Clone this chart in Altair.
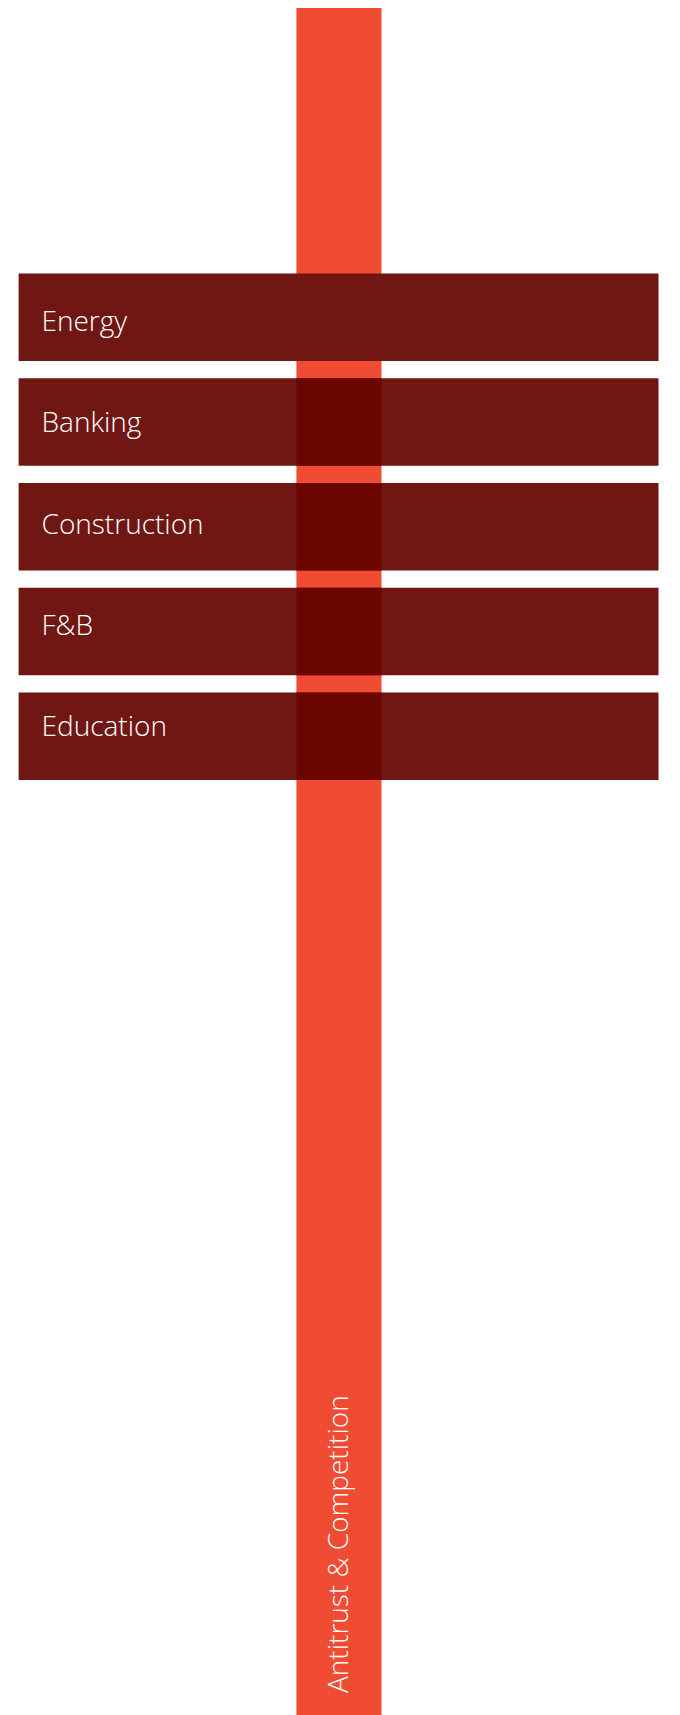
import altair as alt
import pandas as pd

# ---- data ----
industries = ["Energy", "Banking", "Construction", "F&B", "Education"]
linked = [False, True, True, True, True]
practice_area = ["Antitrust & Competition"]

# ---- layout (chart units: pixels of the plot area) ----
W, H = 664, 1707
BAR_X0, BAR_X1 = 10.6, 650.5
COL_X0, COL_X1 = 288.4, 373.5
ROW_TOP, ROW_BOTTOM = 265.5, 772.0
LABEL_X = 33.5
FONT = "Open Sans"
FONT_SIZE = 28

rows = pd.DataFrame({"industry": industries, "linked": linked, "order": range(len(industries))})
rows["x0"] = BAR_X0
rows["x1"] = BAR_X1
rows["cx0"] = COL_X0
rows["cx1"] = COL_X1
rows["lx"] = LABEL_X

col = pd.DataFrame({"area": practice_area, "x0": [COL_X0], "x1": [COL_X1],
                    "y0": [0], "y1": [H], "cx": [(COL_X0 + COL_X1) / 2 + 1], "ty": [H - 22]})

xs = alt.Scale(domain=[0, W], range=[0, W], nice=False, zero=False)
ys_q = alt.Scale(domain=[0, H], range=[0, H], nice=False, zero=False)
ys_b = alt.Scale(domain=industries, range=[ROW_TOP, ROW_BOTTOM], paddingInner=0.165, paddingOuter=0)

noaxis = None

column = alt.Chart(col).mark_rect(color="#F04B33").encode(
    x=alt.X("x0:Q", scale=xs, axis=noaxis),
    x2="x1:Q",
    y=alt.Y("y0:Q", scale=ys_q, axis=noaxis),
    y2="y1:Q",
)

col_label = alt.Chart(col).mark_text(
    angle=270, align="left", baseline="middle", color="white",
    font=FONT, fontSize=FONT_SIZE, fontWeight=300,
).encode(
    x=alt.X("cx:Q", scale=xs, axis=noaxis),
    y=alt.Y("ty:Q", scale=ys_q, axis=noaxis),
    text="area:N",
)

bars = alt.Chart(rows).mark_bar(color="#701713").encode(
    x=alt.X("x0:Q", scale=xs, axis=noaxis),
    x2="x1:Q",
    y=alt.Y("industry:N", scale=ys_b, axis=noaxis, sort=industries),
)

overlap = alt.Chart(rows).transform_filter("datum.linked").mark_bar(color="#6A0500").encode(
    x=alt.X("cx0:Q", scale=xs, axis=noaxis),
    x2="cx1:Q",
    y=alt.Y("industry:N", scale=ys_b, axis=noaxis, sort=industries),
)

labels = alt.Chart(rows).mark_text(
    align="left", baseline="middle", color="white",
    font=FONT, fontSize=FONT_SIZE, fontWeight=300, dy=-1,
).encode(
    x=alt.X("lx:Q", scale=xs, axis=noaxis),
    y=alt.Y("industry:N", scale=ys_b, axis=noaxis, sort=industries, bandPosition=0.5),
    text="industry:N",
)

chart = alt.layer(column, col_label, bars, overlap, labels).resolve_scale(y="independent").properties(
    width=W, height=H, padding=0, autosize=alt.AutoSizeParams(type="none")
).configure_view(stroke=None)

chart.save("out.html", embed_options={"renderer": "svg", "actions": False})
